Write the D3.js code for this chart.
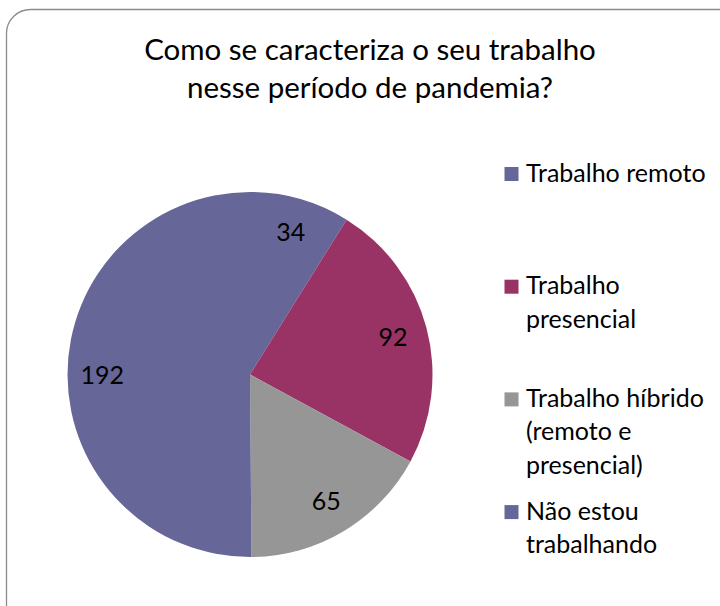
<!DOCTYPE html>
<html>
<head>
<meta charset="utf-8">
<script src="https://cdn.jsdelivr.net/npm/d3@7"></script>
<style>
  html, body { margin: 0; padding: 0; background: #fff; }
  svg { display: block; }
  text { font-family: Lato, "Open Sans", sans-serif; fill: #000; }
</style>
</head>
<body>
<svg id="chart" width="720" height="606"></svg>
<script>
const titleLines = ["Como se caracteriza o seu trabalho", "nesse período de pandemia?"];
const categories = ["Trabalho remoto", "Trabalho presencial", "Trabalho híbrido (remoto e presencial)", "Não estou trabalhando"];
const values = [34, 92, 65, 192];
const palette = ["#666699", "#993366", "#969696", "#666699"];

const svg = d3.select("#chart");
const W = 720, H = 606;

svg.append("rect").attr("width", W).attr("height", H).attr("fill", "#fff");

// chart area border (rounded, extends beyond right/bottom)
svg.append("rect")
  .attr("x", 6.5).attr("y", 9.5)
  .attr("width", 740).attr("height", 640)
  .attr("rx", 24).attr("ry", 24)
  .attr("fill", "#fff")
  .attr("stroke", "#8c8c8c")
  .attr("stroke-width", 1.3);

// title
const title = svg.append("text")
  .attr("text-anchor", "middle")
  .style("font-size", "29.5px");
titleLines.forEach((t, i) => {
  title.append("tspan").attr("x", 370).attr("y", 60 + i * 38).text(t);
});

// pie
const cx = 250, cy = 374.5, R = 182.5;
const color = d3.scaleOrdinal().domain(categories).range(palette);
const data = categories.map((c, i) => ({ cat: c, value: values[i] }));
const pie = d3.pie().value(d => d.value).sort(null).startAngle(0).endAngle(2 * Math.PI);
const arcs = pie(data);
const arc = d3.arc().innerRadius(0).outerRadius(R);
const labelArc = d3.arc().innerRadius(R * 0.81).outerRadius(R * 0.81);

const g = svg.append("g").attr("transform", `translate(${cx},${cy})`);
g.selectAll("path.slice").data(arcs).join("path")
  .attr("class", "slice")
  .attr("d", arc)
  .attr("fill", d => color(d.data.cat));

g.selectAll("text.lbl").data(arcs).join("text")
  .attr("class", "lbl")
  .attr("transform", d => `translate(${labelArc.centroid(d)})`)
  .attr("text-anchor", "middle")
  .attr("dy", "0.36em")
  .style("font-size", "25px")
  .text(d => d.data.value);

// legend
const legX = 504.5, legTop = 167, legStep = 112.7, lineH = 33.3, maxW = 192;
const leg = svg.append("g");
categories.forEach((c, i) => {
  const y0 = legTop + i * legStep;
  leg.append("rect")
    .attr("x", legX).attr("y", y0)
    .attr("width", 14).attr("height", 14)
    .attr("fill", palette[i]);
  const t = leg.append("text").style("font-size", "25px");
  const words = c.split(" ");
  let line = [], ln = 0;
  let ts = t.append("tspan").attr("x", 526).attr("y", y0 + 14.7);
  words.forEach(w => {
    line.push(w);
    ts.text(line.join(" "));
    if (ts.node().getComputedTextLength() > maxW && line.length > 1) {
      line.pop();
      ts.text(line.join(" "));
      line = [w];
      ln++;
      ts = t.append("tspan").attr("x", 526).attr("y", y0 + 14.7 + ln * lineH).text(w);
    }
  });
});
</script>
</body>
</html>
